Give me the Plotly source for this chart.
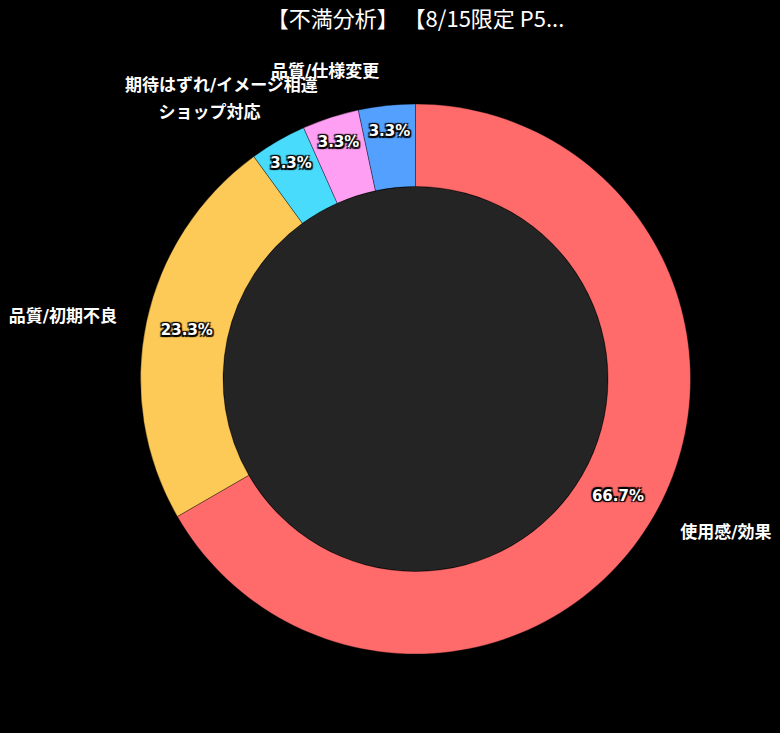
import plotly.graph_objects as go

# complaint categories and counts (30 reviews)
labels = ["使用感/効果", "品質/初期不良", "ショップ対応", "期待はずれ/イメージ相違", "品質/仕様変更"]
counts = [20, 7, 1, 1, 1]
colors = ["#ff6b6b", "#feca57", "#48dbfb", "#ff9ff3", "#54a0ff"]
title = "【不満分析】 【8/15限定 P5..."

FONT = "DejaVu Sans, Noto Sans CJK JP, sans-serif"
HOLE = 0.7
outline = ("-1.5px -1.5px 1px #000, 1.5px -1.5px 1px #000, -1.5px 1.5px 1px #000, "
           "1.5px 1.5px 1px #000, 0 0 2px #000")

fig = go.Figure()

# colored ring with the percentages
fig.add_trace(go.Pie(
    labels=labels,
    values=counts,
    hole=HOLE,
    sort=False,
    direction="clockwise",
    rotation=0,
    domain=dict(x=[0, 1], y=[25 / 600, 575 / 600]),
    marker=dict(colors=colors, line=dict(color="rgba(0,0,0,0.35)", width=1)),
    texttemplate="%{percent:.1%}",
    textposition="inside",
    insidetextorientation="horizontal",
    textfont=dict(family=FONT, size=15, color="white", weight="bold", shadow=outline),
    showlegend=False,
))

# transparent, slightly larger copies only for the outside labels
# (split in two so plotly does not push neighbouring labels apart)
for k in range(2):
    fig.add_trace(go.Pie(
        labels=labels,
        values=counts,
        hole=HOLE,
        sort=False,
        direction="clockwise",
        rotation=0,
        domain=dict(x=[0, 1], y=[0, 1]),
        marker=dict(colors=["rgba(0,0,0,0)"] * len(labels), line=dict(width=0)),
        texttemplate="%{label}",
        textposition=["outside" if i % 2 == k else "none" for i in range(len(labels))],
        outsidetextfont=dict(family=FONT, size=17, color="white", weight="bold"),
        hoverinfo="skip",
        showlegend=False,
    ))

fig.update_layout(
    title=dict(text=title, x=0.5, xref="paper", y=1 - 19 / 733, yref="container",
               yanchor="middle", font=dict(family="Noto Sans CJK JP", size=22, color="white")),
    paper_bgcolor="black",
    plot_bgcolor="black",
    margin=dict(l=80, r=30, t=79, b=54),
    width=780,
    height=733,
    # dark disc filling the hole
    shapes=[dict(type="circle", xref="paper", yref="paper", layer="below",
                 xsizemode="pixel", ysizemode="pixel", xanchor=0.5, yanchor=0.5,
                 x0=-192, x1=192, y0=-192, y1=192,
                 fillcolor="#242424", line=dict(width=0))],
)

fig.write_html("out.html", config={"displayModeBar": False},
               post_script="document.body.style.margin='0';")
